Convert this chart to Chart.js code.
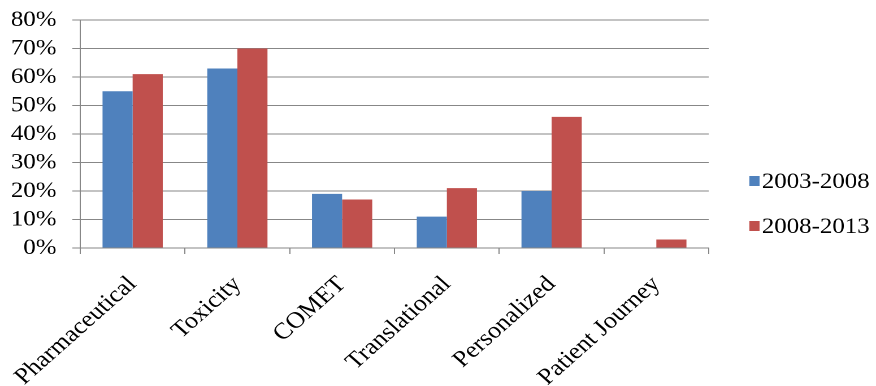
<!DOCTYPE html>
<html>
<head>
<meta charset="utf-8">
<script src="https://cdn.jsdelivr.net/npm/chart.js@4/dist/chart.umd.min.js"></script>
<style>
  html, body { margin: 0; padding: 0; background: #fff; overflow: hidden; }
  /* the figure is laid out at 775px and widened to fill 876px */
  #wrap {
    width: 775px; height: 386px;
    transform: scaleX(1.1303); transform-origin: 0 0;
  }
</style>
</head>
<body>
<div id="wrap"><canvas id="c"></canvas></div>
<script>
// Share of studies per research area, by period (%)
const categories = ['Pharmaceutical', 'Toxicity', 'COMET', 'Translational', 'Personalized', 'Patient Journey'];
const seriesNames = ['2003-2008', '2008-2013'];
const values2003_2008 = [55, 63, 19, 11, 20, 0];
const values2008_2013 = [61, 70, 17, 21, 46, 3];
const yTicks = [0, 10, 20, 30, 40, 50, 60, 70, 80];

const BLUE = '#4F81BD';
const RED = '#C0504D';
const AXIS_GREY = '#878787';
const SERIF = '"Liberation Serif", "Times New Roman", serif';

// Legend drawn to the right of the plot, one row per dataset
const sideLegend = {
  id: 'sideLegend',
  afterDraw(chart) {
    const ctx = chart.ctx;
    const x0 = 663, y0 = 181, rowGap = 45, boxW = 9, boxH = 10;
    ctx.save();
    ctx.font = '22px ' + SERIF;
    ctx.textBaseline = 'middle';
    ctx.textAlign = 'left';
    chart.data.datasets.forEach((ds, i) => {
      const cy = y0 + i * rowGap;
      ctx.fillStyle = ds.backgroundColor;
      ctx.fillRect(x0, cy - boxH / 2, boxW, boxH);
      ctx.fillStyle = '#000';
      ctx.fillText(ds.label, x0 + 11, cy + 1);
    });
    ctx.restore();
  }
};

new Chart(document.getElementById('c'), {
  type: 'bar',
  data: {
    labels: categories,
    datasets: [
      { label: seriesNames[0], data: values2003_2008, backgroundColor: BLUE },
      { label: seriesNames[1], data: values2008_2013, backgroundColor: RED }
    ]
  },
  options: {
    responsive: true,
    maintainAspectRatio: false,
    animation: false,
    devicePixelRatio: 2,
    layout: { padding: { top: 20, right: 148, left: 0, bottom: 0 } },
    datasets: { bar: { categoryPercentage: 0.575, barPercentage: 1.0 } },
    plugins: {
      legend: { display: false },
      tooltip: { enabled: false }
    },
    scales: {
      x: {
        grid: { offset: true, drawOnChartArea: false, color: AXIS_GREY, tickLength: 6, lineWidth: 1 },
        border: { color: AXIS_GREY, width: 1 },
        ticks: {
          minRotation: 45, maxRotation: 45, autoSkip: false,
          font: { family: SERIF, size: 23 }, color: '#000', padding: 17
        },
        afterFit(scale) {
          // plot edges are fixed by the y axis width and the layout padding
          scale.height = 138;
          scale.paddingLeft = 0;
          scale.paddingRight = 0;
        }
      },
      y: {
        min: yTicks[0],
        max: yTicks[yTicks.length - 1],
        afterBuildTicks(scale) { scale.ticks = yTicks.map(v => ({ value: v })); },
        grid: { color: AXIS_GREY, tickLength: 7, lineWidth: 1 },
        border: { color: AXIS_GREY, width: 1 },
        ticks: {
          autoSkip: false,
          font: { family: SERIF, size: 22 }, color: '#000', padding: 14,
          callback: v => v + '%'
        },
        afterFit(scale) {
          scale.width = 71;
          scale.paddingTop = 0;
          scale.paddingBottom = 0;
        }
      }
    }
  },
  plugins: [sideLegend]
});
</script>
</body>
</html>
